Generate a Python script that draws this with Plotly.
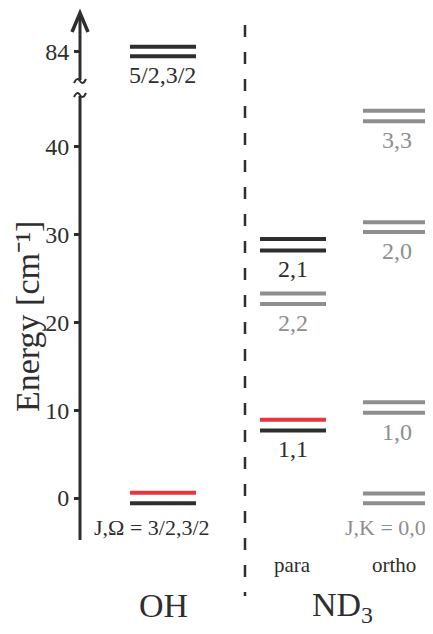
import plotly.graph_objects as go

# ---------------- data ----------------
tick_values = [0, 10, 20, 30, 40, 84]
tick_text = ["0", "10", "20", "30", "40", "84"]

oh_labels = ["J,Ω = 3/2,3/2", "5/2,3/2"]
oh_upper = [0.6, 84.6]
oh_lower = [-0.6, 83.5]
oh_upper_kind = ["red", "black"]
oh_lower_kind = ["black", "black"]
oh_label_kind = ["black", "black"]

para_labels = ["1,1", "2,2", "2,1"]
para_upper = [8.9, 23.3, 29.5]
para_lower = [7.7, 22.1, 28.2]
para_upper_kind = ["red", "gray", "black"]
para_lower_kind = ["black", "gray", "black"]
para_label_kind = ["black", "gray", "black"]

ortho_labels = ["J,K = 0,0", "1,0", "2,0", "3,3"]
ortho_upper = [0.5, 10.9, 31.4, 44.1]
ortho_lower = [-0.6, 9.7, 30.3, 42.9]
ortho_upper_kind = ["gray", "gray", "gray", "gray"]
ortho_lower_kind = ["gray", "gray", "gray", "gray"]
ortho_label_kind = ["gray", "gray", "gray", "gray"]

group_labels = ["OH", "ND<sub>3</sub>"]
sub_labels = ["para", "ortho"]
axis_title = "Energy [cm⁻¹]"

# ---------------- styling / layout helpers ----------------
PAGE_W, PAGE_H, BODY_MARGIN = 433, 634, 8
W, H = PAGE_W - BODY_MARGIN, PAGE_H - BODY_MARGIN
ZERO_PX, PX_PER_UNIT = 498, 8.78
BREAK_AT, BREAK_SHIFT = 47, 33.2
COLORS = {"black": "#2e2e2e", "gray": "#8e8e8e", "red": "#e8353d"}
FONT = "Liberation Serif"
AX_X = 80


def disp(e):
    """Position on the broken energy axis."""
    return e if e < BREAK_AT else e - BREAK_SHIFT


def e_of_px(p):
    return (ZERO_PX - p) / PX_PER_UNIT


fig = go.Figure()

columns = [
    (oh_labels, oh_upper, oh_lower, oh_upper_kind, oh_lower_kind, oh_label_kind, (130, 196), (162, -10)),
    (para_labels, para_upper, para_lower, para_upper_kind, para_lower_kind, para_label_kind, (260, 326), (293, 0)),
    (ortho_labels, ortho_upper, ortho_lower, ortho_upper_kind, ortho_lower_kind, ortho_label_kind, (363, 429), (397, -12)),
]

annotations = []
for labels, up, lo, upk, lok, lbk, (x0, x1), (lx, jx) in columns:
    for i, lab in enumerate(labels):
        for e, k in ((up[i], upk[i]), (lo[i], lok[i])):
            fig.add_trace(go.Scatter(
                x=[x0, x1], y=[disp(e), disp(e)], mode="lines",
                line=dict(color=COLORS[k], width=4), hoverinfo="skip", showlegend=False))
        low = i == 0 and lab.startswith("J")
        annotations.append(dict(
            x=lx, y=disp(lo[i]), text=lab, showarrow=False, xref="x", yref="y",
            yanchor="middle", xanchor="center", yshift=-24 if low else -19,
            xshift=jx if low else 0,
            font=dict(family=FONT, size=22 if low else 24, color=COLORS[lbk[i]])))

# group labels
annotations.append(dict(x=163, y=e_of_px(605), text=group_labels[0], showarrow=False,
                        font=dict(family=FONT, size=34, color="#2e2e2e")))
annotations.append(dict(x=342, y=e_of_px(607), text=group_labels[1], showarrow=False,
                        font=dict(family=FONT, size=34, color="#2e2e2e")))
annotations.append(dict(x=292, y=e_of_px(565), text=sub_labels[0], showarrow=False,
                        font=dict(family=FONT, size=21, color="#2e2e2e")))
annotations.append(dict(x=394, y=e_of_px(565), text=sub_labels[1], showarrow=False,
                        font=dict(family=FONT, size=21, color="#2e2e2e")))
# axis title
annotations.append(dict(x=27, y=e_of_px(317), text=axis_title, showarrow=False,
                        textangle=-90, font=dict(family=FONT, size=34, color="#2e2e2e")))

ax_col = "#2e2e2e"


def tilde(p):
    y0 = e_of_px(p)
    dy = 4 / PX_PER_UNIT
    return (f"M {AX_X - 6} {y0 - dy / 2} Q {AX_X - 3} {y0 + dy * 1.2} {AX_X} {y0} "
            f"T {AX_X + 6} {y0 + dy / 2}")


shapes = [
    dict(type="line", x0=AX_X, x1=AX_X, y0=e_of_px(540), y1=e_of_px(96), line=dict(color=ax_col, width=3)),
    dict(type="line", x0=AX_X, x1=AX_X, y0=e_of_px(80), y1=e_of_px(14), line=dict(color=ax_col, width=3)),
    dict(type="path", path=tilde(81), line=dict(color=ax_col, width=2)),
    dict(type="path", path=tilde(95), line=dict(color=ax_col, width=2)),
    dict(type="path",
         path=f"M 72 {e_of_px(32)} L {AX_X} {e_of_px(13)} L 88 {e_of_px(32)}",
         line=dict(color=ax_col, width=3.5)),
    dict(type="line", x0=245, x1=245, y0=e_of_px(25), y1=e_of_px(596),
         line=dict(color=ax_col, width=2.5, dash="12px,15px")),
]

fig.update_layout(
    width=W, height=H, margin=dict(l=0, r=0, t=0, b=0),
    paper_bgcolor="white", plot_bgcolor="white",
    xaxis=dict(range=[BODY_MARGIN, PAGE_W], visible=False, fixedrange=True),
    yaxis=dict(range=[e_of_px(PAGE_H), e_of_px(BODY_MARGIN)], anchor="free",
               position=(AX_X - BODY_MARGIN) / W,
               showgrid=False, zeroline=False, showline=False,
               tickvals=[disp(v) for v in tick_values], ticktext=tick_text,
               ticks="outside", ticklen=6, tickwidth=3, tickcolor=ax_col,
               tickfont=dict(family=FONT, size=24, color=ax_col)),
    annotations=annotations, shapes=shapes, showlegend=False,
)

fig.write_html("out.html")
